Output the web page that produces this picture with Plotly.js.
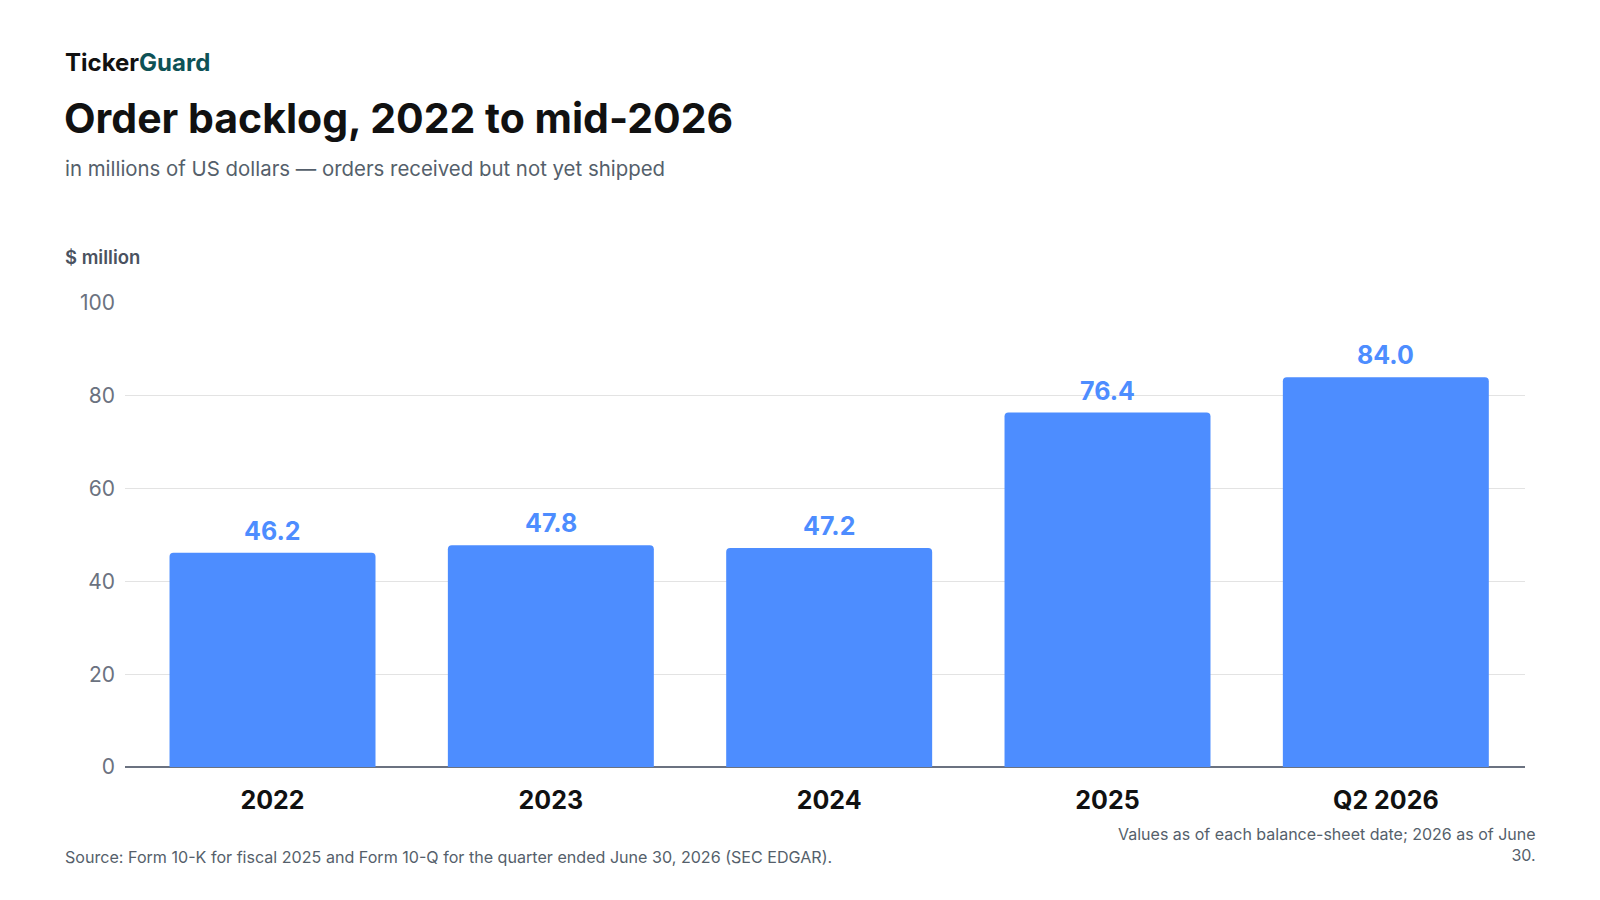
<!DOCTYPE html>
<html>
<head>
<meta charset="utf-8">
<script src="https://cdn.plot.ly/plotly-3.0.1.min.js"></script>
<style>
  html, body { margin: 0; padding: 0; background: #ffffff; }
  #chart { width: 1600px; height: 900px; }
</style>
</head>
<body>
<div id="chart"></div>
<script>
const periods = ['2022', '2023', '2024', '2025', 'Q2 2026'];
const backlog = [46.2, 47.8, 47.2, 76.4, 84.0];
const yTicks = [0, 20, 40, 60, 80, 100];

const W = 1600, H = 900;
const M = { l: 125, r: 75, t: 303, b: 133 };
const plotW = W - M.l - M.r;
const plotH = H - M.t - M.b;

// pixel -> paper helpers for the text blocks around the plot
const px = (x) => (x - M.l) / plotW;
const py = (y) => (H - M.b - y) / plotH;

const blue = '#4d8dff';
const font = 'Inter, "Noto Sans", sans-serif';

const trace = {
  type: 'bar',
  x: periods,
  y: backlog,
  marker: { color: blue, cornerradius: 4 },
  hoverinfo: 'x+y',
};

// value labels sit a fixed distance above each bar (x = category index)
const valueLabels = periods.map((p, i) => ({
  xref: 'x', yref: 'y', x: i, y: backlog[i],
  xanchor: 'center', yanchor: 'middle', yshift: 22, showarrow: false,
  text: backlog[i].toFixed(1),
  font: { family: font, size: 25, color: blue, weight: 700 },
}));

const layout = {
  width: W,
  height: H,
  margin: M,
  paper_bgcolor: '#ffffff',
  plot_bgcolor: '#ffffff',
  showlegend: false,
  bargap: 0.26,
  font: { family: font },
  xaxis: {
    type: 'category',
    categoryarray: periods,
    range: [-0.53, periods.length - 0.5],
    tickfont: { family: font, size: 25, color: '#111111', weight: 700 },
    ticks: '',
    ticklabelstandoff: 16,
    showgrid: false,
    zeroline: false,
    showline: false,
  },
  yaxis: {
    range: [0, 100],
    tickvals: yTicks,
    ticktext: yTicks.map(String),
    tickfont: { family: font, size: 21, color: '#6b7280' },
    ticks: '',
    ticklabelstandoff: 9,
    showgrid: true,
    gridcolor: '#e3e3e3',
    gridwidth: 1,
    zeroline: true,
    zerolinecolor: '#6b7280',
    zerolinewidth: 2,
    showline: false,
    fixedrange: true,
  },
  annotations: valueLabels.concat([
    {
      xref: 'paper', yref: 'paper', x: px(63), y: py(62),
      xanchor: 'left', yanchor: 'middle', showarrow: false,
      text: 'Ticker<span style="color:#0e5256">Guard</span>',
      font: { family: font, size: 24, color: '#111111', weight: 700 },
    },
    {
      xref: 'paper', yref: 'paper', x: px(62), y: py(118),
      xanchor: 'left', yanchor: 'middle', showarrow: false,
      text: 'Order backlog, 2022 to mid-2026',
      font: { family: font, size: 41, color: '#111111', weight: 700 },
    },
    {
      xref: 'paper', yref: 'paper', x: px(63), y: py(168),
      xanchor: 'left', yanchor: 'middle', showarrow: false,
      text: 'in millions of US dollars \u2014 orders received but not yet shipped',
      font: { family: font, size: 20.4, color: '#555f6b' },
    },
    {
      xref: 'paper', yref: 'paper', x: px(63), y: py(257),
      xanchor: 'left', yanchor: 'middle', showarrow: false,
      text: '$ million',
      font: { family: font, size: 18.5, color: '#4a5260', weight: 600 },
    },
    {
      xref: 'paper', yref: 'paper', x: px(63), y: py(857),
      xanchor: 'left', yanchor: 'middle', showarrow: false,
      text: 'Source: Form 10-K for fiscal 2025 and Form 10-Q for the quarter ended June 30, 2026 (SEC EDGAR).',
      font: { family: font, size: 16.1, color: '#555f6b' },
    },
    {
      xref: 'paper', yref: 'paper', x: px(1538), y: py(844),
      xanchor: 'right', yanchor: 'middle', align: 'right', showarrow: false,
      text: 'Values as of each balance-sheet date; 2026 as of June<br>30.',
      font: { family: font, size: 16, color: '#555f6b' },
    },
  ]),
};

Plotly.newPlot('chart', [trace], layout, { displayModeBar: false });
</script>
</body>
</html>
